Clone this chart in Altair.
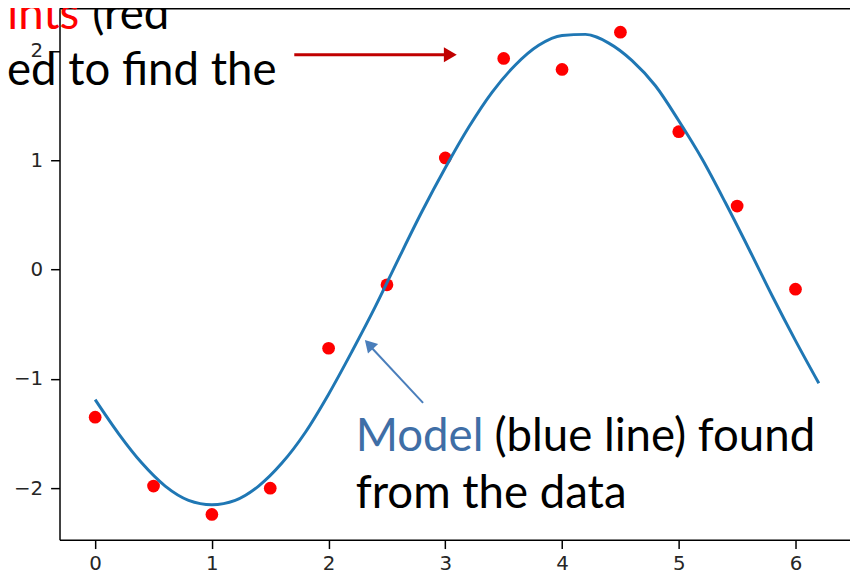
import altair as alt
import pandas as pd

# data points (red)
x_points = [0.0, 0.5, 1.0, 1.5, 2.0, 2.5, 3.0, 3.5, 4.0, 4.5, 5.0, 5.5, 6.0]
y_points = [-1.35, -1.98, -2.24, -2.00, -0.72, -0.14, 1.02, 1.93, 1.83, 2.17, 1.26, 0.58, -0.18]

# model curve (blue)
x_curve = [0.0, 0.2, 0.4, 0.6, 0.8, 1.0, 1.2, 1.4, 1.6, 1.8, 2.0, 2.2, 2.4, 2.6, 2.8, 3.0,
           3.2, 3.4, 3.6, 3.8, 4.0, 4.2, 4.4, 4.6, 4.8, 5.0, 5.2, 5.4, 5.6, 5.8, 6.0, 6.2]
y_curve = [-1.19, -1.50, -1.77, -1.98, -2.11, -2.15, -2.11, -1.98, -1.77, -1.49, -1.14, -0.75,
           -0.34, 0.10, 0.53, 0.93, 1.30, 1.62, 1.87, 2.05, 2.14, 2.15, 2.07, 1.91, 1.68, 1.36,
           1.01, 0.61, 0.19, -0.24, -0.65, -1.04]

x_ticks = [0, 1, 2, 3, 4, 5, 6]
y_ticks = [-2, -1, 0, 1, 2]

PT = -2            # top padding
W, H = 798, 536
OX, OY = 60, 8 + PT  # page position of plot origin

xs = alt.Scale(domain=[-0.3055, 6.467], nice=False, zero=False)
ys = alt.Scale(domain=[-2.470, 2.385], nice=False, zero=False)

axis_common = dict(title=None, grid=False, labelFont="DejaVu Sans", labelFontSize=20,
                   labelColor="#262626", tickColor="#000000", tickSize=9, tickWidth=1.5,
                   domainColor="#000000", domainWidth=1.5, format="d")

df_pts = pd.DataFrame({"x": x_points, "y": y_points})
df_curve = pd.DataFrame({"x": x_curve, "y": y_curve})
one = pd.DataFrame({"k": [0]})

points = alt.Chart(df_pts).mark_circle(color="#ff0000", size=165, opacity=1).encode(
    x=alt.X("x:Q", scale=xs, axis=alt.Axis(values=x_ticks, labelPadding=5, **axis_common)),
    y=alt.Y("y:Q", scale=ys, axis=alt.Axis(values=y_ticks, labelPadding=8,
                                           labelExpr="replace(datum.label, '-', '\u2212')",
                                           **axis_common)),
)

curve = alt.Chart(df_curve).mark_line(color="#1f77b4", strokeWidth=3,
                                      interpolate="monotone").encode(
    x=alt.X("x:Q", scale=xs), y=alt.Y("y:Q", scale=ys)
)

top_border = alt.Chart(one).mark_rule(color="#000000", strokeWidth=1.5).encode(
    x=alt.value(0), x2=alt.value(W), y=alt.value(0)
)

FS = 46


def txt(s, px, py, color, align):
    return alt.Chart(one).mark_text(text=s, font="Lato", fontSize=FS, color=color,
                                    align=align, baseline="alphabetic").encode(
        x=alt.value(px - OX), y=alt.value(py - OY))


texts = [
    txt("Data points", 80, 27, "#ff0000", "right"),
    txt("(red", 93, 27, "#000000", "left"),
    txt("dots) used to find the", 279, 83, "#000000", "right"),
    txt("Model", 359, 453, "#3f6ea6", "left"),
    txt("(blue line) found", 499, 453, "#000000", "left"),
    txt("from the data", 359, 510, "#000000", "left"),
]

red_line = alt.Chart(one).mark_rule(color="#c00000", strokeWidth=3).encode(
    x=alt.value(297 - OX), x2=alt.value(450 - OX), y=alt.value(52.5 - OY)
)
red_head = alt.Chart(one).mark_point(shape="triangle-right", filled=True, color="#c00000",
                                     size=225, opacity=1).encode(
    x=alt.value(454.5 - OX), y=alt.value(52.5 - OY)
)

blue_line = alt.Chart(one).mark_rule(color="#4a7ebb", strokeWidth=2).encode(
    x=alt.value(427 - OX), y=alt.value(404 - OY), x2=alt.value(373 - OX), y2=alt.value(346 - OY)
)
blue_head = alt.Chart(one).mark_point(shape="triangle-up", filled=True, color="#4a7ebb",
                                      size=196, opacity=1, angle=317).encode(
    x=alt.value(372.4 - OX), y=alt.value(344.9 - OY)
)

chart = alt.layer(points, curve, top_border, red_line, red_head, blue_line, blue_head,
                  *texts).properties(
    width=W, height=H,
    autosize=alt.AutoSizeParams(type="none"),
    padding={"left": 52, "top": PT, "right": 0, "bottom": 32},
).configure_view(stroke=None)

chart.save("out.html", embed_options={"renderer": "svg", "actions": False})
